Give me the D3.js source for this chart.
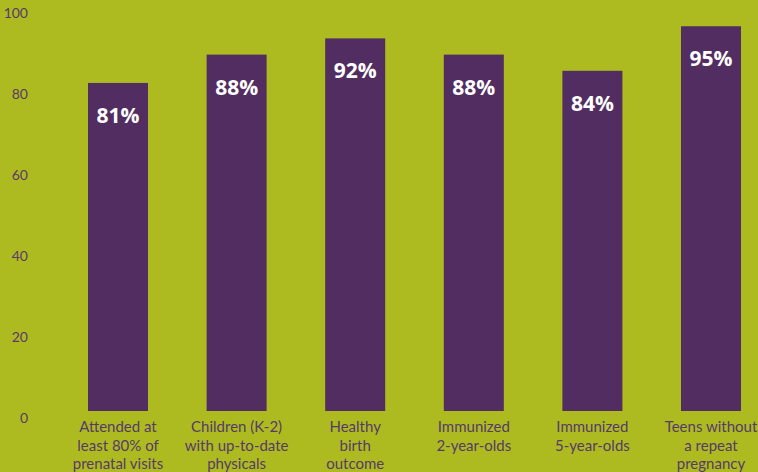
<!DOCTYPE html>
<html>
<head>
  <script src="https://d3js.org/d3.v7.min.js"></script>
  <style>
    body { margin: 0; background: #adbb21; }
    svg { display: block; }
    .axis .domain, .axis line { stroke: none; }
  </style>
</head>
<body>
  <svg id="chart" width="758" height="472"></svg>
  <script>
    // data
    const categories = [
      ["Attended at", "least 80% of", "prenatal visits"],
      ["Children (K-2)", "with up-to-date", "physicals"],
      ["Healthy", "birth", "outcome"],
      ["Immunized", "2-year-olds"],
      ["Immunized", "5-year-olds"],
      ["Teens without", "a repeat", "pregnancy"]
    ];
    const values = [81, 88, 92, 88, 84, 95];
    const yTicks = [0, 20, 40, 60, 80, 100];

    const purple = "#522d61";
    const labelColor = "#573a68";

    const svg = d3.select("#chart");
    svg.append("rect").attr("width", 758).attr("height", 472).attr("fill", "#adbb21");

    const keys = categories.map(c => c.join(" "));

    const x = d3.scaleBand().domain(keys).range([58.7, 770.3])
      .paddingInner(0.494).paddingOuter(0.247);
    const y = d3.scaleLinear().domain([0, 100]).range([411, 6]);

    // y axis labels (no line, no ticks)
    const yAxis = d3.axisLeft(y).tickValues(yTicks).tickSize(0).tickPadding(0);
    const gy = svg.append("g").attr("class", "axis")
      .attr("transform", "translate(28, 7)")
      .call(yAxis);
    gy.selectAll("text")
      .style("font-family", "Lato, 'Open Sans', sans-serif")
      .style("font-size", "14px")
      .attr("fill", labelColor);

    // bars
    svg.selectAll("rect.bar")
      .data(values)
      .join("rect")
      .attr("class", "bar")
      .attr("x", (d, i) => x(keys[i]))
      .attr("y", d => y(d))
      .attr("width", x.bandwidth())
      .attr("height", d => y(0) - y(d))
      .attr("fill", purple);

    // value labels inside bars
    svg.selectAll("text.val")
      .data(values)
      .join("text")
      .attr("class", "val")
      .attr("x", (d, i) => x(keys[i]) + x.bandwidth() / 2)
      .attr("y", d => y(d) + 40)
      .attr("text-anchor", "middle")
      .attr("fill", "white")
      .style("font-family", "'Open Sans', sans-serif")
      .style("font-weight", "bold")
      .style("font-size", "21px")
      .text(d => d + "%");

    // category labels
    categories.forEach((lines, i) => {
      const t = svg.append("text")
        .attr("x", x(keys[i]) + x.bandwidth() / 2)
        .attr("y", 432)
        .attr("text-anchor", "middle")
        .attr("fill", labelColor)
        .style("font-family", "Lato, sans-serif")
        .style("font-size", "15px");
      lines.forEach((l, j) => {
        t.append("tspan")
          .attr("x", x(keys[i]) + x.bandwidth() / 2)
          .attr("dy", j === 0 ? 0 : 18.5)
          .text(l);
      });
    });
  </script>
</body>
</html>
